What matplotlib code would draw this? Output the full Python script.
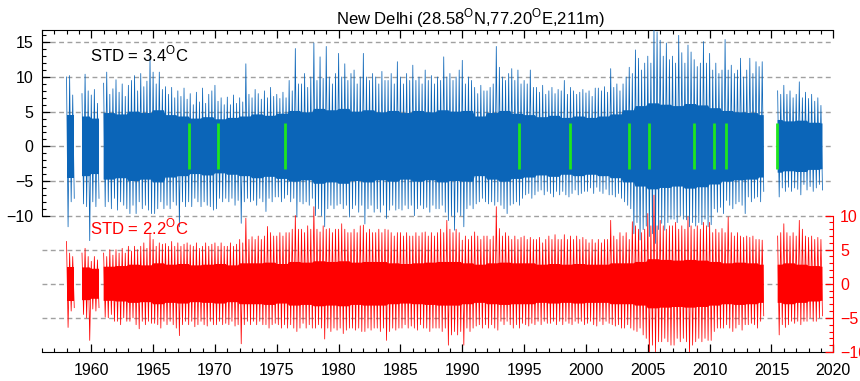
import numpy as np
import matplotlib
matplotlib.use("Agg")
import matplotlib.pyplot as plt
from matplotlib.ticker import FixedLocator

plt.rcParams['font.family'] = ['Liberation Sans', 'DejaVu Sans']
plt.rcParams['mathtext.fontset'] = 'custom'
plt.rcParams['mathtext.rm'] = 'Liberation Sans'

nan = float('nan')

# ---------------- data ----------------
years = list(range(1958, 2020))

# blue: daily temperature anomaly, per-quarter spike maxima / minima (deg C)
blue_hi = [
    [10.0, 10.2, 7.4, nan], [nan, 7.6, 10.4, 8.0], [7.4, 8.2, 6.2, nan], [9.1, 10.7, 7.5, 8.3],
    [9.6, 7.8, 9.0, 7.2], [8.8, 9.5, 10.2, 8.0], [10.5, 8.6, 9.4, 12.9], [10.7, 9.0, 10.7, 8.2],
    [8.6, 7.5, 8.5, 7.0], [8.0, 7.2, 8.4, 6.8], [7.6, 6.0, 7.8, 6.4], [8.4, 6.2, 7.5, 8.0],
    [8.8, 6.5, 7.0, 6.0], [7.1, 6.0, 7.4, 6.2], [7.0, 6.4, 11.9, 7.5], [7.0, 8.2, 7.6, 6.8],
    [8.0, 7.0, 8.5, 7.2], [7.5, 6.9, 7.8, 7.0], [9.5, 8.0, 14.1, 9.0], [9.0, 10.5, 8.5, 10.0],
    [14.9, 9.5, 12.9, 9.8], [14.4, 10.0, 9.0, 10.5], [13.4, 10.0, 11.9, 9.5], [10.5, 11.0, 9.0, 10.0],
    [13.4, 10.0, 9.5, 10.5], [10.0, 9.0, 10.8, 9.5], [9.5, 10.5, 9.0, 12.2], [10.0, 9.0, 10.5, 9.5],
    [11.7, 9.5, 10.0, 9.0], [11.0, 9.5, 10.2, 9.0], [10.0, 9.5, 12.9, 10.0], [10.5, 9.5, 10.0, 11.0],
    [12.4, 9.0, 10.0, 9.5], [8.5, 7.6, 8.8, 8.0], [8.0, 8.5, 9.0, 14.4], [11.4, 10.0, 9.5, 10.5],
    [11.2, 9.5, 11.0, 9.0], [9.5, 9.0, 11.0, 8.5], [8.5, 7.8, 8.8, 7.5], [8.0, 8.5, 7.6, 8.2],
    [8.0, 9.5, 7.5, 8.5], [8.0, 7.5, 7.8, 8.2], [7.7, 8.0, 7.2, 8.4], [8.4, 8.0, 8.6, 7.8],
    [11.2, 8.5, 9.0, 8.0], [9.0, 10.0, 11.4, 10.5], [13.9, 12.7, 11.0, 12.0], [13.0, 12.0, 17.5, 16.5],
    [15.3, 13.0, 14.9, 12.5], [13.0, 12.0, 16.0, 13.5], [12.0, 14.6, 13.6, 12.5], [11.5, 12.0, 15.1, 12.0],
    [13.4, 11.0, 12.0, 10.5], [11.0, 15.4, 11.0, 11.7], [10.5, 11.0, 12.7, 10.0], [11.0, 12.7, 10.5, 12.2],
    [11.5, 12.2, nan, nan], [nan, nan, 8.0, 7.5], [8.8, 7.5, 8.0, 7.0], [7.5, 9.3, 7.0, 7.8],
    [6.9, 7.5, 6.5, 7.0], [5.9, nan, nan, nan],
]
blue_lo = [
    [-11.6, -8.0, -7.5, nan], [nan, -8.3, -8.7, -13.6], [-8.0, -8.7, -7.5, nan], [-8.7, -8.0, -9.0, -7.5],
    [-9.2, -8.0, -8.5, -9.0], [-9.7, -8.5, -9.7, -8.0], [-9.0, -8.5, -9.2, -9.7], [-9.7, -9.0, -8.0, -9.0],
    [-8.5, -9.0, -8.0, -8.5], [-11.6, -8.0, -8.7, -8.0], [-8.7, -7.5, -8.0, -8.7], [-8.0, -8.5, -8.7, -9.2],
    [-9.0, -7.5, -8.0, -7.5], [-8.0, -7.5, -8.5, -7.8], [-11.1, -8.0, -7.5, -8.0], [-7.8, -8.5, -7.5, -8.0],
    [-9.4, -7.5, -8.0, -7.3], [-7.3, -8.0, -7.5, -7.0], [-8.0, -7.5, -10.2, -8.0], [-8.3, -8.0, -8.5, -7.5],
    [-10.0, -9.0, -10.0, -11.6], [-9.0, -8.5, -9.0, -8.5], [-8.3, -9.0, -8.5, -10.2], [-9.0, -8.5, -9.5, -8.5],
    [-11.2, -9.0, -8.5, -9.5], [-9.0, -9.5, -8.5, -10.4], [-9.2, -8.5, -9.2, -9.0], [-9.2, -8.5, -9.0, -8.5],
    [-10.0, -9.0, -8.5, -9.0], [-8.8, -9.5, -8.5, -9.0], [-9.0, -8.5, -9.5, -10.7], [-10.0, -12.1, -9.5, -10.0],
    [-11.6, -9.0, -8.5, -9.0], [-8.3, -8.0, -7.5, -8.0], [-8.3, -8.0, -8.5, -8.0], [-8.5, -9.0, -9.7, -8.5],
    [-8.3, -8.0, -8.5, -7.5], [-7.0, -6.8, -7.5, -7.0], [-6.5, -6.3, -7.0, -6.5], [-6.8, -7.3, -6.5, -7.0],
    [-6.5, -7.0, -7.3, -6.8], [-6.3, -7.0, -6.8, -6.5], [-6.5, -6.0, -6.8, -5.9], [-6.5, -6.8, -6.2, -7.0],
    [-7.0, -7.3, -6.8, -7.5], [-8.0, -8.5, -9.0, -12.6], [-11.0, -13.5, -12.0, -11.5], [-13.0, -12.6, -14.0, -12.0],
    [-11.1, -12.1, -11.0, -10.5], [-10.5, -11.0, -10.0, -10.5], [-10.6, -11.6, -11.0, -11.5], [-11.0, -11.3, -10.5, -11.6],
    [-11.3, -9.0, -9.5, -8.8], [-9.7, -7.8, -8.5, -9.0], [-8.3, -8.0, -8.5, -9.7], [-7.3, -8.0, -7.5, -7.3],
    [-8.0, -6.5, nan, nan], [nan, nan, -7.3, -6.0], [-6.5, -5.9, -6.5, -6.0], [-6.2, -7.0, -5.5, -6.3],
    [-5.8, -6.5, -6.0, -5.5], [-6.3, nan, nan, nan],
]
# half-width of the dense core of the blue trace, per year
blue_core = [4.5, 4.3, 4.0, 4.8, 4.6, 5.0, 4.8, 5.2, 4.5, 4.3, 4.0, 4.2, 3.9, 4.1, 4.3, 4.6,
             4.4, 4.7, 5.1, 4.9, 5.4, 5.2, 5.4, 5.0, 5.2, 4.9, 5.1, 4.8, 5.1, 4.9, 5.2, 5.0,
             5.1, 4.3, 4.8, 5.1, 4.7, 4.5, 4.2, 4.4, 4.1, 4.3, 4.1, 4.3, 4.6, 5.2, 5.8, 6.2,
             6.0, 5.8, 6.1, 5.9, 5.5, 5.1, 4.9, 4.8, 4.5, 3.8, 3.6, 3.7, 3.4, 3.3]

# red: residual anomaly (right axis)
red_hi = [
    [6.2, 4.5, 4.0, nan], [nan, 4.5, 5.2, 4.0], [3.3, 4.0, 3.5, nan], [4.5, 4.0, 5.0, 4.2],
    [5.0, 4.5, 5.2, 4.5], [5.5, 4.8, 5.5, 5.0], [5.5, 6.0, 5.2, 7.4], [6.5, 5.5, 6.0, 5.8],
    [5.9, 5.5, 6.2, 5.5], [6.0, 5.5, 5.8, 6.0], [5.7, 5.5, 6.0, 5.2], [5.5, 6.0, 5.5, 5.8],
    [6.0, 5.5, 6.0, 5.5], [5.5, 6.0, 5.5, 5.8], [6.5, 6.0, 9.6, 6.5], [6.9, 6.5, 7.0, 6.5],
    [7.0, 8.4, 7.5, 7.0], [7.0, 7.5, 7.0, 7.5], [7.5, 8.0, 10.0, 8.0], [8.0, 7.5, 8.5, 8.0],
    [11.3, 8.0, 7.6, 8.5], [8.0, 8.1, 7.5, 8.0], [8.0, 8.8, 8.0, 7.5], [7.5, 8.0, 7.5, 8.5],
    [8.6, 7.5, 8.0, 7.5], [7.5, 8.0, 7.5, 8.0], [7.9, 7.5, 7.0, 7.5], [7.5, 7.0, 7.5, 7.0],
    [7.0, 7.5, 7.0, 7.5], [7.6, 7.0, 7.5, 7.0], [7.5, 8.0, 7.5, 9.3], [8.0, 7.5, 8.0, 7.5],
    [6.4, 7.0, 6.5, 7.0], [7.6, 7.0, 6.5, 7.0], [7.0, 6.5, 7.0, 11.3], [8.1, 7.0, 7.5, 7.0],
    [6.5, 7.0, 6.5, 6.8], [7.0, 6.5, 6.8, 6.5], [6.5, 6.8, 6.0, 6.5], [7.0, 6.5, 7.2, 6.5],
    [6.5, 7.2, 6.5, 7.0], [6.5, 7.0, 6.5, 6.8], [6.5, 6.0, 6.5, 6.0], [6.5, 6.0, 6.5, 6.5],
    [9.3, 7.0, 6.5, 7.5], [7.0, 7.5, 6.5, 9.1], [8.5, 8.0, 7.5, 8.0], [10.3, 8.5, 13.0, 8.5],
    [9.3, 8.5, 8.0, 8.5], [8.5, 9.0, 8.0, 8.5], [8.0, 9.8, 8.5, 8.0], [8.5, 8.0, 9.0, 8.5],
    [9.0, 7.5, 8.0, 7.5], [8.1, 7.5, 9.8, 7.5], [7.0, 7.5, 7.0, 6.8], [7.0, 6.8, 7.0, 6.5],
    [6.5, 6.4, nan, nan], [nan, nan, 7.0, 7.5], [8.8, 7.5, 7.0, 7.5], [7.0, 9.3, 8.0, 7.0],
    [6.8, 7.0, 6.5, 6.8], [6.5, nan, nan, nan],
]
red_lo = [
    [-6.4, -4.0, -3.5, nan], [nan, -4.5, -5.0, -8.3], [-3.7, -4.0, -3.5, nan], [-4.9, -5.0, -4.5, -5.5],
    [-5.5, -6.0, -5.0, -5.5], [-5.5, -5.0, -6.0, -6.6], [-5.5, -6.0, -5.5, -5.8], [-5.8, -6.0, -6.5, -5.5],
    [-6.0, -5.5, -6.0, -6.5], [-7.6, -6.0, -5.5, -6.0], [-5.5, -6.3, -6.0, -5.5], [-6.0, -6.2, -5.5, -6.0],
    [-6.0, -5.5, -6.0, -5.8], [-6.0, -5.5, -6.2, -6.0], [-8.8, -6.0, -5.5, -6.0], [-5.5, -6.0, -5.5, -6.0],
    [-6.0, -6.5, -6.0, -5.8], [-6.0, -6.5, -6.0, -6.5], [-6.0, -6.5, -7.0, -6.5], [-5.8, -6.5, -6.0, -6.5],
    [-6.5, -6.0, -6.5, -8.1], [-6.5, -7.0, -6.5, -6.8], [-6.5, -7.3, -6.8, -6.5], [-6.5, -6.8, -6.5, -7.0],
    [-7.0, -6.5, -6.8, -6.5], [-6.5, -7.0, -6.5, -8.3], [-7.0, -6.5, -6.8, -6.5], [-6.5, -6.0, -6.5, -6.2],
    [-6.5, -6.8, -6.0, -6.5], [-6.5, -7.0, -6.5, -6.5], [-6.5, -7.0, -6.5, -9.0], [-7.5, -7.0, -7.5, -7.0],
    [-9.0, -6.5, -7.0, -6.5], [-6.2, -6.0, -6.5, -6.0], [-6.5, -6.0, -6.5, -6.8], [-5.5, -6.0, -5.5, -6.0],
    [-6.5, -6.0, -6.5, -5.8], [-6.0, -6.2, -5.8, -6.0], [-5.5, -6.0, -5.5, -5.8], [-5.8, -5.5, -6.0, -5.5],
    [-6.0, -5.5, -5.8, -6.0], [-5.5, -5.8, -5.5, -6.0], [-5.8, -5.5, -6.0, -6.2], [-5.5, -6.0, -5.5, -5.8],
    [-6.0, -6.2, -6.0, -6.5], [-6.5, -6.0, -6.5, -6.8], [-7.0, -6.5, -7.5, -8.0], [-10.5, -9.0, -10.0, -8.5],
    [-8.5, -8.0, -8.5, -9.0], [-9.0, -8.0, -8.5, -8.0], [-8.5, -10.5, -9.0, -8.5], [-8.0, -8.5, -8.0, -8.3],
    [-8.3, -7.0, -6.5, -6.5], [-6.5, -6.0, -6.5, -7.0], [-6.5, -6.0, -6.8, -6.0], [-6.0, -5.8, -6.0, -6.5],
    [-5.5, -4.7, nan, nan], [nan, nan, -7.5, -6.0], [-6.4, -6.0, -5.5, -5.8], [-5.5, -6.0, -5.5, -5.5],
    [-5.0, -5.5, -5.5, -5.0], [-4.7, nan, nan, nan],
]
red_core = [2.5, 2.4, 2.2, 2.5, 2.6, 2.8, 2.7, 3.0, 2.8, 2.9, 2.7, 2.8, 2.9, 2.7, 3.0, 3.0,
            3.1, 2.9, 3.2, 3.1, 3.3, 3.2, 3.3, 3.1, 3.2, 3.2, 3.0, 2.9, 3.0, 3.1, 3.2, 3.2,
            3.0, 2.8, 3.0, 3.1, 3.0, 3.0, 2.8, 2.9, 2.8, 2.9, 2.8, 2.8, 3.0, 3.0, 3.2, 3.6,
            3.5, 3.4, 3.5, 3.4, 3.2, 3.0, 3.1, 3.0, 2.8, 2.8, 3.0, 2.8, 2.6, 2.5]

break_years = [1967.9, 1970.25, 1975.7, 1994.6, 1998.7, 2003.5, 2005.1, 2008.75, 2010.35, 2011.3, 2015.45]
break_half = 3.3

blue_yticks = [-10, -5, 0, 5, 10, 15]
red_yticks = [-10, -5, 0, 5, 10]
xticks = [1960, 1965, 1970, 1975, 1980, 1985, 1990, 1995, 2000, 2005, 2010, 2015, 2020]

title = 'New Delhi (28.58$^{\\mathrm{O}}$N,77.20$^{\\mathrm{O}}$E,211m)'
blue_std = 'STD = 3.4$^{\\mathrm{O}}$C'
red_std = 'STD = 2.2$^{\\mathrm{O}}$C'


def trace(hi, lo):
    t, v = [], []
    for yr, hq, lq in zip(years, hi, lo):
        for q in range(4):
            t0 = yr + q * 0.25
            t += [t0, t0 + 0.125]
            v += [hq[q], lq[q]]
    return np.array(t), np.array(v)


def core(halfw, hi):
    t, c = [], []
    for yr, cw, hq in zip(years, halfw, hi):
        for q in range(4):
            t0 = yr + q * 0.25
            val = cw if np.isfinite(hq[q]) else np.nan
            t += [t0, t0 + 0.125]
            c += [val, val]
    return np.array(t), np.array(c)


W, H = 860, 381
fig = plt.figure(figsize=(W / 100, H / 100), dpi=100)
L, R, B, T = 41.8, 833.3, 352, 30
ax = fig.add_axes([L / W, 1 - B / H, (R - L) / W, (B - T) / H])
ax2 = ax.twinx()

blue_top, blue_bot = 16.77, -29.65
red_top, red_bot = 37.2, -10.0
ax.set_ylim(blue_bot, blue_top)
ax2.set_ylim(red_bot, red_top)
ax.set_xlim(1956, 2020)

grid_kw = dict(color='#a0a0a0', lw=1.0, ls=(0, (3.5, 2.5)), zorder=0)
for g in blue_yticks:
    ax.axhline(g, **grid_kw)
for g in red_yticks[1:-1]:
    ax2.axhline(g, **grid_kw)

# blue series
blue_col = '#0b65b8'
tb, vb = trace(blue_hi, blue_lo)
tc, cb = core(blue_core, blue_hi)
ax.fill_between(tc, -cb, cb, color=blue_col, lw=0, zorder=2)
ax.plot(tb, vb, color=blue_col, lw=0.55, zorder=3)
ax.vlines(break_years, -break_half, break_half, color='#1ee61e', lw=2.0, zorder=4)

# red series
tr, vr = trace(red_hi, red_lo)
tcr, cr = core(red_core, red_hi)
ax2.fill_between(tcr, -cr, cr, color='#ff0000', lw=0, zorder=2)
ax2.plot(tr, vr, color='#ff0000', lw=0.55, zorder=3)

# axes styling
fs = 11.5
ax.set_xticks(xticks)
ax.xaxis.set_minor_locator(FixedLocator(list(range(1956, 2021))))
ax.set_yticks(blue_yticks)
ax.yaxis.set_minor_locator(FixedLocator(list(range(-10, 17))))
ax.tick_params(axis='x', which='both', direction='in', top=True, bottom=True, labelsize=fs, pad=8)
ax.tick_params(axis='y', which='both', direction='in', left=True, right=False, labelsize=fs, pad=6)
ax.tick_params(which='major', length=6, width=0.9)
ax.tick_params(which='minor', length=3, width=0.8)
ax.spines['right'].set_visible(False)
ax.spines['left'].set_bounds(-10, blue_top)

ax2.set_yticks(red_yticks)
ax2.yaxis.set_minor_locator(FixedLocator(list(range(-10, 11))))
ax2.tick_params(axis='y', which='both', direction='in', colors='red', labelsize=fs, pad=5)
ax2.tick_params(which='major', length=6, width=0.9)
ax2.tick_params(which='minor', length=3, width=0.8)
for s in ['left', 'top', 'bottom']:
    ax2.spines[s].set_visible(False)
ax2.spines['right'].set_color('red')
ax2.spines['right'].set_bounds(-10, 10)

fig.text(471 / W, 1 - 18 / H, title, ha='center', va='center', fontsize=12)
fig.text(90.5 / W, 1 - 54 / H, blue_std, ha='left', va='center', fontsize=12, color='black')
fig.text(90.5 / W, 1 - 227 / H, red_std, ha='left', va='center', fontsize=12, color='red')

fig.savefig('out.png', dpi=100)
